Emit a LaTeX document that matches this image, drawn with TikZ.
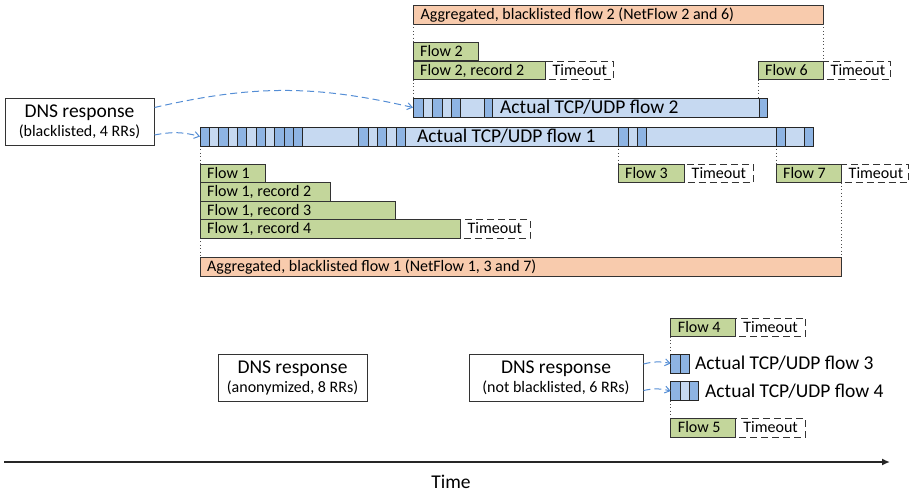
\documentclass[tikz,border=0pt]{standalone}
\usepackage{fontspec}
\setmainfont{Carlito}
\usetikzlibrary{arrows.meta}

\newcommand{\fontS}{\fontsize{16}{19}\selectfont}
\newcommand{\fontL}{\fontsize{19.5}{22}\selectfont}

\definecolor{aggorange}{RGB}{248,203,173}
\definecolor{flowgreen}{RGB}{195,214,155}
\definecolor{tcplight}{RGB}{198,217,241}
\definecolor{tcpdark}{RGB}{142,180,227}
\definecolor{linkblue}{RGB}{85,142,213}

\tikzset{
  recbox/.style={draw=black!80, line width=1pt, fill=flowgreen},
  aggbox/.style={draw=black!80, line width=1pt, fill=aggorange},
  tobox/.style={draw=black!80, line width=1pt, dash pattern=on 7pt off 4pt},
  tcpbar/.style={draw=black!85, line width=1pt, fill=tcplight, anchor=north west,
    minimum height=19pt, inner sep=0pt, outer sep=0pt},
  pktdark/.style={draw=black!85, line width=1pt, fill=tcpdark},
  pktlight/.style={draw=black!85, line width=1pt, fill=tcplight},
  lbl/.style={anchor=base west, inner sep=0pt, font=\fontS},
  biglbl/.style={anchor=base west, inner sep=0pt, font=\fontL},
  dnsbox/.style={draw=black!80, line width=1pt, fill=white, minimum width=149pt,
    minimum height=47pt, align=center, inner sep=0pt, font=\fontS},
  guide/.style={black!70, line width=0.8pt, dash pattern=on 0.8pt off 2.6pt},
  dnslink/.style={-{Straight Barb[angle=70:6pt]}, linkblue, line width=1pt,
    dash pattern=on 7pt off 4pt, bend left=13}
}

\begin{document}
\begin{tikzpicture}[x=1pt, y=-1pt]
\useasboundingbox (0,0) rectangle (910,493);

% Aggregated flows
\draw[aggbox] (413,5) rectangle (823,24);
\node[lbl] (agg2) at (420.5,19.3) {Aggregated, blacklisted flow 2 (NetFlow 2 and 6)};
\draw[aggbox] (200,257) rectangle (841,276);
\node[lbl] (agg1) at (207,271.3) {Aggregated, blacklisted flow 1 (NetFlow 1, 3 and 7)};

% Dotted guides
\foreach \x/\a/\b in {413/24/42, 413/79.5/98, 823/24/61, 758/79.5/98, 200/146/164,
                      618/146/164, 776/146/164, 200/238/257, 841/182.5/257,
                      670.7/336.5/354, 670.7/400.5/418.5} {
  \draw[guide] (\x,\a) -- (\x,\b);
}

% Timeouts
\foreach \x/\y/\w [count=\i] in {545/61/68, 823/61/67, 460/219.5/70, 684/164/69,
                                 841/164/67, 735.7/318/70, 735.7/418.5/70} {
  \draw[tobox] (\x,\y) rectangle ++(\w,18.5);
  \node[lbl] (to\i) at (\x+7.5,\y+14) {Timeout};
}

% NetFlow records
\foreach \x/\y/\w/\txt [count=\i] in {413/42/65/{Flow 2}, 413/61/132/{Flow 2, record 2},
    758/61/65/{Flow 6}, 200/164/65/{Flow 1}, 200/182.5/130/{Flow 1, record 2},
    200/201/195/{Flow 1, record 3}, 200/219.5/260/{Flow 1, record 4},
    618/164/66/{Flow 3}, 776/164/65/{Flow 7}, 670.7/318/65/{Flow 4},
    670.7/418.5/65/{Flow 5}} {
  \draw[recbox] (\x,\y) rectangle ++(\w,18.5);
  \node[lbl] (rec\i) at (\x+7,\y+14) {\txt};
}

% Actual TCP/UDP flows
\node[tcpbar, minimum width=613pt] (tcp1) at (200,127) {};
\node[tcpbar, minimum width=354pt] (tcp2) at (413,98) {};
\node[tcpbar, minimum width=19pt] (tcp3) at (670.7,354) {};
\node[tcpbar, minimum width=28pt] (tcp4) at (670.7,381.5) {};

% Packets
\foreach \a/\b in {200/209,218/228,237/246,256/265,274/284,284/293,293/302,358/368,
                   377/386,396/405,618/628,637/646,776/785,804/813} {
  \draw[pktdark] (\a,127) rectangle (\b,146);
}
\foreach \a/\b in {209/218,228/237,246/256,265/274,368/377,386/396,628/637} {
  \draw[pktlight] (\a,127) rectangle (\b,146);
}
\foreach \a/\b in {413/423,432/442,451/460,484/492,759/767} {
  \draw[pktdark] (\a,98) rectangle (\b,117);
}
\foreach \a/\b in {423/432,442/451} {
  \draw[pktlight] (\a,98) rectangle (\b,117);
}
\foreach \a/\b in {670.7/680,680/689.3} {
  \draw[pktdark] (\a,354) rectangle (\b,373);
}
\draw[pktdark] (670.7,381.5) rectangle (680,400.5);
\draw[pktlight] (680,381.5) rectangle (689.3,400.5);
\draw[pktdark] (689.3,381.5) rectangle (698.7,400.5);

\node[biglbl] (tcp1lbl) at (417,142.8) {Actual TCP/UDP flow 1};
\node[biglbl] (tcp2lbl) at (500,113.8) {Actual TCP/UDP flow 2};
\node[biglbl] (tcp3lbl) at (695,369.8) {Actual TCP/UDP flow 3};
\node[biglbl] (tcp4lbl) at (705,397.3) {Actual TCP/UDP flow 4};

% DNS responses
\node[dnsbox] (dns1) at (79.5,121.5) {{\fontL DNS response}\\ (blacklisted, 4 RRs)};
\node[dnsbox] (dns2) at (292.5,377.5) {{\fontL DNS response}\\ (anonymized, 8 RRs)};
\node[dnsbox, minimum width=174pt] (dns3) at (556,377.5) {{\fontL DNS response}\\ (not blacklisted, 6 RRs)};

\draw[dnslink] ([yshift=14pt]dns1.east) to (tcp2.west);
\draw[dnslink] ([yshift=-13.5pt]dns1.east) to (tcp1.west);
\draw[dnslink] ([yshift=13.5pt]dns3.east) to (tcp3.west);
\draw[dnslink] ([yshift=-13pt]dns3.east) to (tcp4.west);

% Time axis
\coordinate (t0) at (4,462);
\coordinate (t1) at (890,462);
\draw[-{Latex[length=8pt,width=7pt]}, line width=1.6pt, black!85] (t0) -- (t1);
\node[font=\fontL] (time) at (451,482) {Time};

\end{tikzpicture}
\end{document}
